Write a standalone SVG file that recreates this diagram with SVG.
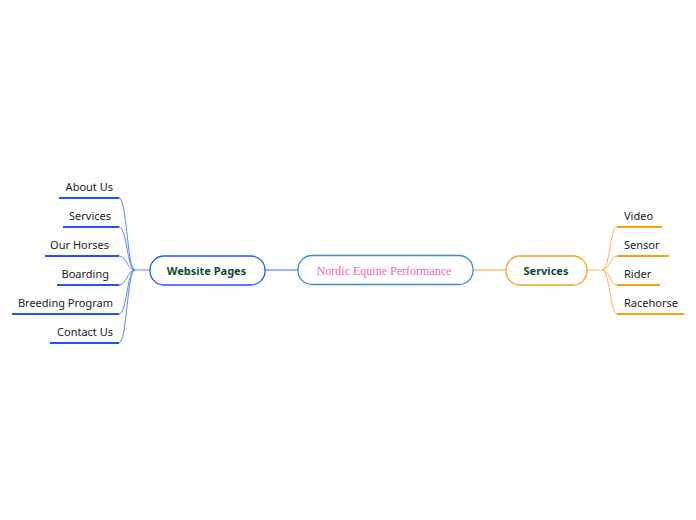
<svg xmlns="http://www.w3.org/2000/svg" width="696" height="520" viewBox="0 0 696 520">
<style>
.leaf{font-family:"Noto Sans","Open Sans",sans-serif;font-size:11px;fill:#1a1a1a}
.main{font-family:"Noto Sans","Open Sans",sans-serif;font-size:11px;font-weight:bold;fill:#0d4a3a}
.ulb{stroke:#1f55f0;stroke-width:2;fill:none}
.ulo{stroke:#f5a010;stroke-width:2;fill:none}
.cb{stroke:#5a86f5;stroke-width:1;fill:none}
.co{stroke:#f8b850;stroke-width:1;fill:none}
</style>
<rect width="696" height="520" fill="#ffffff"/>
<g id="connectors">
<line x1="265" y1="270" x2="298" y2="270" stroke="#3a66f0" stroke-width="1"/>
<line x1="473" y1="270" x2="506" y2="270" stroke="#f5a020" stroke-width="1"/>
<line x1="150" y1="270" x2="135" y2="270" class="cb"/>
<path class="cb" d="M135 270 C127 270 127 198 119 198"/>
<path class="cb" d="M135 270 C127 270 127 227 119 227"/>
<path class="cb" d="M135 270 C127 270 127 256 119 256"/>
<path class="cb" d="M135 270 C127 270 127 285 119 285"/>
<path class="cb" d="M135 270 C127 270 127 314 119 314"/>
<path class="cb" d="M135 270 C127 270 127 343 119 343"/>
<line x1="587" y1="270" x2="602" y2="270" class="co"/>
<path class="co" d="M602 270 C610 270 610 227 617 227"/>
<path class="co" d="M602 270 C610 270 610 256 617 256"/>
<path class="co" d="M602 270 C610 270 610 285 617 285"/>
<path class="co" d="M602 270 C610 270 610 314 617 314"/>
</g>
<g id="central">
<rect x="298" y="255.5" width="175" height="29" rx="14" fill="#ffffff" stroke="#3a8fd0" stroke-width="1.3"/>
<text x="384" y="274.5" text-anchor="middle" font-family="Liberation Serif,serif" font-size="12" fill="#f06aaa">Nordic Equine Performance</text>
</g>
<g id="website-pages">
<rect x="150" y="256" width="115" height="29" rx="14" fill="#ffffff" stroke="#1f55f0" stroke-width="1.3"/>
<text x="206.5" y="274.5" text-anchor="middle" class="main">Website Pages</text>
</g>
<g id="services">
<rect x="506" y="256" width="81" height="29" rx="14" fill="#ffffff" stroke="#f5a020" stroke-width="1.3"/>
<text x="546" y="274.5" text-anchor="middle" class="main">Services</text>
</g>
<g id="about-us"><line x1="59" y1="198" x2="119" y2="198" class="ulb"/><text x="113" y="191" text-anchor="end" class="leaf">About Us</text></g>
<g id="services-page"><line x1="63" y1="227" x2="119" y2="227" class="ulb"/><text x="111" y="220" text-anchor="end" class="leaf">Services</text></g>
<g id="our-horses"><line x1="45" y1="256" x2="119" y2="256" class="ulb"/><text x="109" y="249" text-anchor="end" class="leaf">Our Horses</text></g>
<g id="boarding"><line x1="57" y1="285" x2="119" y2="285" class="ulb"/><text x="109" y="278" text-anchor="end" class="leaf">Boarding</text></g>
<g id="breeding-program"><line x1="12" y1="314" x2="119" y2="314" class="ulb"/><text x="113" y="307" text-anchor="end" class="leaf">Breeding Program</text></g>
<g id="contact-us"><line x1="50" y1="343" x2="119" y2="343" class="ulb"/><text x="113" y="336" text-anchor="end" class="leaf">Contact Us</text></g>
<g id="video"><line x1="617" y1="227" x2="662" y2="227" class="ulo"/><text x="624" y="220" class="leaf">Video</text></g>
<g id="sensor"><line x1="617" y1="256" x2="669" y2="256" class="ulo"/><text x="624" y="249" class="leaf">Sensor</text></g>
<g id="rider"><line x1="617" y1="285" x2="660" y2="285" class="ulo"/><text x="624" y="278" class="leaf">Rider</text></g>
<g id="racehorse"><line x1="617" y1="314" x2="684" y2="314" class="ulo"/><text x="624" y="307" class="leaf">Racehorse</text></g>
</svg>
